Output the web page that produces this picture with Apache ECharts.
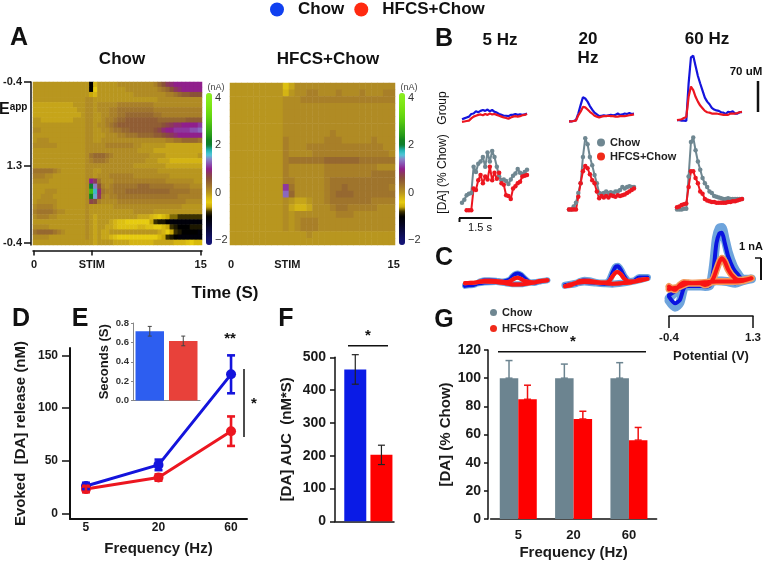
<!DOCTYPE html>
<html>
<head>
<meta charset="utf-8">
<title>Evoked dopamine, Chow vs HFCS+Chow</title>
<script src="https://cdn.jsdelivr.net/npm/echarts@6/dist/echarts.min.js"></script>
<style>
  html, body { margin: 0; background: #fff; }
  #chart { width: 764px; height: 561px; }
</style>
</head>
<body>
<div id="chart"></div>
<script>
// A: colour plots, tenths of nA, one row per step of the voltage sweep
var chowPlot = [
  [0,0,0,0,0,0,0, 0,0,0,0,0,0,0, -10,-2,0,0,0,0,0, 1,1,1,1,1,1,1, 1,1,2,4,6,8,9, 10,10,10,10,10,10,10],
  [0,0,0,0,0,0,0, 0,0,0,0,0,0,0, -10,-4,0,0,0,0,0, 0,0,1,1,1,1,1, 1,1,1,2,3,4,6, 8,9,10,10,10,10,10],
  [0,0,0,0,0,0,0, 0,0,0,0,0,0,0, -6,-2,0,0,0,0,0, 0,0,0,0,1,1,1, 1,1,1,1,1,2,2, 3,4,5,5,6,6,6],
  [0,0,0,0,0,0,0, 0,0,0,0,0,0,1, 1,0,0,0,0,0,0, 0,0,0,0,0,0,0, 0,0,0,1,1,1,1, 1,1,1,1,1,1,1],
  [-1,-1,-1,-1,-1,-1,-1, -1,-1,-1,0,0,0,1, 1,0,1,1,1,1,1, 2,2,2,2,2,2,2, 2,2,1,1,1,1,1, 1,1,1,1,1,1,1],
  [-1,-1,-1,-1,-1,-1,-1, -1,-1,-1,-1,0,0,1, 1,0,1,1,1,2,2, 3,3,3,3,3,3,3, 3,3,2,2,2,2,2, 2,2,2,2,2,2,2],
  [-1,-1,-1,-1,-1,-1,-1, -1,-1,-1,-1,-1,0,1, 1,0,0,1,1,2,2, 3,3,4,4,4,4,4, 4,4,3,3,2,2,2, 2,2,2,2,2,2,2],
  [0,0,-1,-1,-1,-1,-1, -1,-1,-1,0,0,0,1, 1,0,0,1,2,2,3, 4,4,5,5,5,5,5, 5,5,5,4,4,4,4, 4,4,4,5,5,5,5],
  [0,0,0,0,0,0,0, 0,0,0,0,0,0,1, 1,0,1,1,2,3,4, 5,5,5,5,5,5,5, 5,5,5,5,6,7,8, 9,9,10,10,10,10,11],
  [1,1,0,0,0,0,0, 0,0,0,0,0,0,1, 1,0,0,1,1,2,3, 3,4,4,5,5,5,5, 5,5,6,7,9,10,10, 11,11,11,11,12,12,13],
  [0,0,0,0,0,0,0, 0,0,0,0,0,0,1, 1,0,0,0,1,1,1, 2,2,3,3,3,4,4, 4,4,5,5,6,7,8, 9,10,10,10,10,10,10],
  [0,1,1,1,0,0,0, 0,0,0,0,0,0,1, 1,0,0,1,1,1,1, 1,1,1,1,1,1,1, 1,1,1,1,1,2,2, 3,3,4,4,4,4,3],
  [1,1,1,1,1,1,0, 0,0,0,0,0,0,1, 1,1,1,1,2,2,2, 2,2,2,2,1,1,0, 0,0,0,0,0,-1,-1, -1,-1,-1,-1,-1,-1,-1],
  [0,0,0,0,0,0,0, 0,0,0,0,0,0,1, 1,1,1,1,1,1,1, 1,1,1,1,1,0,0, 0,0,-1,-1,-1,-1,-1, -1,-1,-1,-1,-1,-1,-1],
  [0,0,0,0,0,0,0, 0,0,0,0,0,0,1, 3,4,4,4,3,2,1, 1,1,1,1,1,1,1, 1,0,0,0,0,-1,-1, -1,-1,-1,-1,-1,-1,0],
  [0,0,0,0,0,0,0, 0,0,0,0,0,0,1, 2,3,3,3,2,1,1, 1,1,1,1,1,1,1, 0,0,0,-1,-1,-1,-2, -2,-2,-2,-2,-2,-2,-2],
  [0,0,0,0,0,0,0, 0,0,0,0,0,0,1, 1,1,1,1,1,1,1, 1,1,1,1,0,0,0, 0,0,0,0,0,-1,-1, -1,-1,-1,-1,-1,-1,-1],
  [3,3,3,3,3,2,1, 0,0,0,0,0,0,1, 1,0,0,1,1,1,1, 1,1,1,1,1,1,1, 1,1,1,0,0,0,0, 0,0,0,0,0,0,0],
  [2,2,2,1,1,0,0, 0,0,0,0,0,0,1, 1,0,1,1,1,2,2, 2,2,2,2,1,1,1, 1,1,1,1,1,1,0, 0,0,0,0,0,0,0],
  [1,1,1,1,0,0,0, 0,0,0,0,0,0,1, 10,8,3,1,1,1,2, 2,2,2,2,2,2,2, 2,2,2,2,2,1,1, 1,1,1,1,1,0,0],
  [0,0,0,0,0,0,0, 0,0,0,0,0,0,1, 20,14,6,2,1,2,3, 3,3,3,3,3,4,4, 4,3,3,3,3,3,3, 2,2,2,2,1,1,1],
  [0,0,0,1,1,1,0, 0,0,0,0,0,0,1, 28,17,9,3,2,2,3, 3,3,4,4,4,4,4, 4,4,4,4,4,4,3, 3,3,3,3,2,2,2],
  [0,0,1,1,1,0,0, 0,0,0,0,0,0,1, 22,15,8,2,1,2,2, 3,3,3,3,3,3,3, 3,3,3,3,3,3,3, 3,2,2,2,2,2,2],
  [0,1,1,1,1,1,0, 0,0,0,0,0,0,1, 7,6,2,1,1,1,1, 2,2,2,2,2,2,2, 2,2,2,2,2,2,2, 2,2,2,1,1,1,1],
  [1,2,2,2,2,1,0, 0,0,0,0,0,0,1, 0,0,0,0,0,0,1, 1,1,1,1,1,1,1, 1,1,1,1,1,1,1, 1,1,0,0,0,0,0],
  [2,3,3,3,3,2,1, 1,0,0,0,0,0,1, 0,0,0,0,0,0,0, 0,0,0,0,1,1,1, 1,1,0,0,0,0,0, 0,0,0,0,0,0,0],
  [1,2,2,2,1,1,0, 0,0,0,0,0,0,1, 0,-1,0,0,0,0,0, 0,0,0,0,0,-1,-1, -1,-2,-3,-4,-5,-6,-7, -7,-8,-8,-8,-8,-8,-8],
  [0,0,0,0,0,0,0, 0,0,0,0,0,0,1, 0,-1,0,0,0,-1,-2, -3,-3,-4,-4,-4,-4,-4, -4,-6,-8,-9,-9,-10,-11, -11,-11,-11,-11,-11,-11,-11],
  [1,1,1,1,0,0,0, 0,0,0,0,0,0,1, 0,-1,0,0,-1,-1,-2, -3,-3,-3,-3,-3,-2,-2, -3,-3,-4,-4,-5,-6,-8, -9,-10,-10,-10,-9,-9,-9],
  [3,4,4,4,4,3,2, 1,0,0,0,0,0,1, 0,-1,0,-1,-1,0,0, 0,0,0,0,0,0,0, 0,0,0,-1,-2,-4,-6, -8,-9,-10,-10,-10,-10,-11],
  [1,1,1,1,0,0,0, 0,0,0,0,0,0,1, 0,-1,0,-1,-1,-2,-3, -4,-4,-4,-4,-4,-4,-4, -4,-4,-4,-5,-6,-8,-9, -10,-11,-11,-11,-11,-11,-11],
  [0,0,0,0,0,0,0, 0,0,0,0,0,0,0, 0,-1,0,0,0,0,-1, -1,-1,-1,-2,-2,-2,-2, -2,-2,-1,-1,-1,-1,-1, -2,-2,-2,-3,-4,-5,-5]
];
var hfcsPlot = [
  [0,0,0,0,0,0,0,0,0,-3,-1,1,1,1,1,1,1,1,1,1,1,1,1,1,1,1,1,1],
  [0,0,0,0,0,0,0,0,0,-2,0,1,1,2,2,1,1,1,2,1,1,1,2,1,1,1,2,2],
  [0,0,0,0,0,0,0,0,0,1,1,1,2,2,2,2,2,2,2,2,2,2,2,2,2,2,2,2],
  [0,0,0,0,0,0,0,0,0,1,1,1,1,1,1,1,1,1,1,1,1,1,1,1,1,1,1,1],
  [0,0,0,0,0,0,0,0,0,1,1,1,1,1,1,1,1,1,1,1,1,1,1,1,1,1,1,1],
  [0,0,0,0,0,0,0,0,0,1,1,1,1,1,1,1,1,1,1,1,1,1,1,1,1,1,1,1],
  [0,0,0,0,0,0,0,0,0,1,1,1,1,1,1,1,1,1,1,1,1,1,1,1,1,1,1,1],
  [0,0,0,0,0,0,0,0,0,1,1,1,1,1,1,1,1,2,1,1,1,1,1,1,1,1,1,1],
  [0,0,0,0,0,0,0,0,0,2,1,1,1,1,1,1,2,2,2,1,1,1,1,1,2,1,1,1],
  [0,0,0,0,0,0,0,0,0,2,1,1,1,2,2,2,2,2,2,2,2,2,2,2,2,2,1,1],
  [0,0,0,0,0,0,0,0,0,2,1,1,1,1,2,2,2,2,2,2,2,2,2,2,2,2,2,1],
  [0,0,0,0,0,0,0,0,0,2,3,3,3,3,3,3,4,4,4,4,4,4,3,3,3,3,3,3],
  [0,0,0,0,0,0,0,0,0,2,1,1,1,1,1,1,2,2,2,2,2,2,2,2,2,1,1,1],
  [0,0,0,0,0,0,0,0,0,2,1,1,1,1,1,1,2,2,2,2,2,2,2,2,3,3,3,3],
  [0,0,0,0,0,0,0,0,0,2,2,1,1,1,1,1,2,3,3,3,3,3,3,3,3,3,3,3],
  [0,0,0,0,0,0,0,0,0,11,3,1,1,1,1,1,2,3,3,4,3,3,3,3,3,3,3,2],
  [0,0,0,0,0,0,0,0,0,13,4,1,1,1,1,1,2,3,4,4,4,3,3,3,3,3,3,3],
  [0,0,0,0,0,0,0,0,0,1,0,-1,-1,0,1,1,2,3,3,3,3,3,3,3,2,2,2,2],
  [0,0,0,0,0,0,0,0,0,1,-1,-2,-2,-1,1,1,1,2,3,3,2,2,2,2,2,1,1,1],
  [0,0,0,0,0,0,0,0,0,1,0,1,1,1,1,1,1,1,2,2,2,1,1,1,1,1,1,1],
  [0,0,0,0,0,0,0,0,0,1,0,1,2,2,2,1,1,1,1,1,1,1,1,1,1,1,1,1],
  [0,0,0,0,0,0,0,0,0,1,0,1,2,2,2,1,1,1,1,1,1,1,1,1,1,1,1,1],
  [0,0,0,0,0,0,0,0,0,0,0,0,0,1,0,0,0,0,0,0,0,0,0,0,0,0,0,0],
  [0,0,0,0,0,0,0,0,0,0,0,0,0,0,0,0,0,0,0,0,0,0,0,0,0,0,0,0]
];
var plotRange = [-2.2, 4.2];
var plotColors = ['#14147a','#12126e','#0e0e58','#0a0a40','#06062a','#020214','#000000','#3a3000','#c8a808','#e6cb10','#d4b414',
  '#b8961f','#a87f28','#966830','#8a5238','#8c3a5a','#901f8c','#8a4fb0','#8a80c8','#50c8d8','#20b0b0','#0f7f30',
  '#108020','#259818','#35a818','#45b814','#55c810','#62d510','#6edc10','#78e212','#80e818','#86ec1c','#8cf020'];
var barTicks = [-2, 0, 2, 4];
var timeTicks = [0, 5.2, 15];
var timeLabels = { 0: '0', 5.2: 'STIM', 15: '15' };
var sweepTicks = [0, 0.515, 0.988];
var sweepLabels = ['-0.4', '1.3', '-0.4'];

// B: concentration traces (uM) and normalised traces (% Chow)
var group5Chow = [3,5,7,9,15,16,21,19,22,24,22,25,21,24,20,18,15,13,11,11,10,13,13,15,13,14,13,14,16];
var group5Hfcs = [-3,-2,-1,0,5,9,11,13,14,12,15,13,16,14,15,13,11,9,7,6,4,7,9,10,9,10,12,13,15];
var group20Chow = [-2,-2,-1,1,16,35,53,50,43,33,25,18,14,10,11,12,11,12,13,12,13,16,13,14,16,15,17,15,16];
var group20Hfcs = [-2,-2,-1,0,12,20,31,30,25,20,16,11,9,7,9,10,10,11,10,10,9,9,10,10,10,11,12,13,14];
var group60Chow = [1,1,0,0,-1,84,143,147,124,101,84,68,52,43,37,29,25,23,22,19,18,15,20,19,21,16,16,19,19];
var group60Hfcs = [1,2,3,6,8,54,77,69,54,43,34,28,22,19,18,16,16,16,15,14,13,13,13,16,16,16,17,19,20];

var pct5Chow = [12,16,22,24,25,60,53,64,67,73,60,79,67,81,73,60,47,42,43,41,37,43,48,51,57,52,50,53,56];
var pct5Hfcs = [null,null,2,2,2,31,29,42,49,38,47,43,60,42,52,44,52,38,36,22,21,17,31,34,38,40,47,48,49];
var pct20Chow = [3,3,7,12,25,38,73,98,90,73,62,49,38,25,24,25,27,25,26,25,27,27,29,33,31,33,34,33,33];
var pct20Hfcs = [3,3,3,3,20,38,54,61,58,50,42,38,27,18,21,19,21,19,22,21,20,22,21,22,23,25,27,29,31];
var pct60Chow = [3,3,3,4,4,47,93,99,82,67,56,45,38,33,27,25,21,20,19,18,17,17,18,17,17,17,17,17,17];
var pct60Hfcs = [6,7,9,10,11,33,54,54,45,38,27,24,17,15,14,13,13,12,12,12,12,12,13,13,14,14,15,16,17];

// C: cyclic voltammograms, nA against the up and back sweep
var cvPotential = [-0.40,-0.28,-0.18,-0.10,-0.01,0.09,0.23,0.33,0.43,0.50,0.56,0.62,0.67,0.73,0.80,0.90,1.00,1.10,1.27,1.10,0.94,0.77,0.56,0.40,0.23,-0.01,-0.18,-0.40];
var cv5Chow = [-0.15,-0.15,-0.10,0.02,0.08,0.08,0.06,0.02,0.05,0.10,0.25,0.36,0.39,0.33,0.18,0.00,-0.05,0.02,0.08,0.02,-0.02,-0.10,-0.10,-0.05,0.00,-0.02,-0.08,-0.18];
var cv5Hfcs = [-0.05,-0.05,-0.02,0.02,0.05,0.05,0.04,0.02,0.00,0.02,0.10,0.17,0.19,0.14,0.05,0.00,-0.02,0.04,0.08,0.02,-0.05,-0.10,-0.12,-0.05,0.00,0.02,-0.02,-0.06];
var cv20Chow = [-0.15,-0.12,-0.08,0.02,0.08,0.06,-0.02,-0.05,-0.05,0.08,0.40,0.68,0.71,0.55,0.25,0.02,0.05,0.20,0.20,0.10,0.02,-0.05,-0.10,-0.08,-0.05,0.00,-0.06,-0.15];
var cv20Hfcs = [-0.20,-0.15,-0.05,0.05,0.06,0.05,0.00,-0.02,-0.02,0.05,0.25,0.42,0.45,0.35,0.15,0.02,0.02,0.10,0.14,0.05,-0.02,-0.05,-0.08,-0.05,-0.02,0.00,-0.05,-0.20];
var cv60Chow = [-0.67,-0.97,-0.82,-0.29,-0.14,-0.14,-0.18,-0.21,-0.14,0.55,1.76,2.21,2.24,1.76,1.15,0.62,0.32,0.12,0.14,0.06,-0.06,0.02,0.05,-0.06,-0.18,-0.18,-0.29,-0.60];
var cv60ChowBand = [-0.85,-1.15,-0.95,-0.29,-0.14,-0.14,-0.18,-0.21,-0.14,0.75,2.00,2.45,2.48,2.00,1.35,0.72,0.35,0.12,0.14,0.06,-0.06,0.02,0.05,-0.06,-0.18,-0.18,-0.29,-0.75];
var cv60Hfcs = [-0.21,-0.36,-0.14,-0.02,-0.04,-0.06,-0.06,-0.14,-0.05,0.17,0.55,0.92,1.08,0.92,0.55,0.24,0.09,0.09,0.17,0.05,0.02,0.02,0.02,0.00,-0.04,-0.06,-0.21,-0.33];
var cvTicks = [-0.4, 1.3];

// D: evoked release
var freqLabels = ['5', '20', '60'];
var releaseChow = [26, 46, 132];
var releaseChowLow = [23, 41, 114];
var releaseChowHigh = [29, 51, 150];
var releaseHfcs = [23, 34, 78];
var releaseHfcsLow = [20, 31, 64];
var releaseHfcsHigh = [26, 37, 92];
var releaseTicks = [0, 50, 100, 150];

// E: inset, seconds
var secondsValues = [0.715, 0.615];
var secondsLow = [0.665, 0.565];
var secondsHigh = [0.765, 0.665];

// F: area under the curve
var aucValues = [463, 203];
var aucLow = [418, 173];
var aucHigh = [508, 232];

// G: percent of Chow
var pctChow = [100, 100, 100];
var pctChowHigh = [112.5, 110, 111];
var pctHfcs = [85, 71, 56];
var pctHfcsHigh = [95, 76.5, 65];

var FONT = '"Liberation Sans", Arial, sans-serif';
var BLUE = '#1414dc', RED = '#ec1620', GREY = '#6f8791';

var grids = [], xAxes = [], yAxes = [], series = [], graphics = [];

function addGrid(left, top, width, height) {
  grids.push({ left: left, top: top, width: width, height: height });
  return grids.length - 1;
}
function addX(opt) {
  opt.axisLine = Object.assign({ onZero: false }, opt.axisLine);
  xAxes.push(Object.assign({ splitLine: { show: false } }, opt));
  return xAxes.length - 1;
}
function addY(opt) {
  opt.axisLine = Object.assign({ onZero: false }, opt.axisLine);
  yAxes.push(Object.assign({ splitLine: { show: false } }, opt));
  return yAxes.length - 1;
}
function nameStyle(size) {
  return { fontFamily: FONT, fontWeight: 'bold', fontSize: size, color: '#1a1a1a' };
}
function text(x, y, str, size, opt) {
  opt = opt || {};
  graphics.push({
    type: 'text', x: x, y: y, rotation: opt.rotation || 0, silent: true,
    style: {
      text: str, fontFamily: FONT, fontSize: size, fontWeight: opt.weight || 'bold', fill: opt.fill || '#111',
      align: opt.align || 'center', verticalAlign: 'middle', rich: opt.rich
    }
  });
}
function rule(x1, y1, x2, y2, width) {
  graphics.push({ type: 'line', silent: true, shape: { x1: x1, y1: y1, x2: x2, y2: y2 }, style: { stroke: '#111', lineWidth: width || 1.5 } });
}
function pairs(xs, ys) {
  return ys.map(function (v, i) { return [xs[i], v]; });
}

// whiskers drawn from the value arrays through the axes; dx shifts them onto a grouped bar
function whiskers(xi, yi, xs, lows, highs, color, width, cap, dx) {
  series.push({
    type: 'custom', xAxisIndex: xi, yAxisIndex: yi, silent: true, z: 5,
    encode: { x: 0, y: [1, 2] },
    data: lows.map(function (v, i) { return [xs[i], v, highs[i]]; }),
    renderItem: function (params, api) {
      var a = api.coord([api.value(0), api.value(1)]);
      var b = api.coord([api.value(0), api.value(2)]);
      var x = a[0] + (dx || 0);
      var st = { stroke: color, lineWidth: width };
      return { type: 'group', children: [
        { type: 'line', shape: { x1: x, y1: a[1], x2: x, y2: b[1] }, style: st },
        { type: 'line', shape: { x1: x - cap, y1: b[1], x2: x + cap, y2: b[1] }, style: st },
        { type: 'line', shape: { x1: x - cap, y1: a[1], x2: x + cap, y2: a[1] }, style: st }
      ] };
    }
  });
}

// ---- A
function colourPlot(matrix, left, top, width, height, barLeft, withSweep) {
  var g = addGrid(left, top, width, height);
  var xi = addX({ type: 'category', gridIndex: g, show: false, data: matrix[0].map(function (v, i) { return i; }) });
  addX({
    type: 'value', gridIndex: g, min: -0.09, max: 15.12, position: 'bottom', offset: 5.5,
    axisLine: { lineStyle: { color: '#111', width: 1.5 } },
    axisTick: { customValues: timeTicks, length: 5, lineStyle: { color: '#111', width: 1.5 } },
    axisLabel: { customValues: timeTicks, margin: 9, formatter: function (v) { return timeLabels[v]; }, fontFamily: FONT, fontWeight: 'bold', fontSize: 11, color: '#1a1a1a' }
  });
  var yi = addY({ type: 'category', gridIndex: g, show: false, inverse: true, data: matrix.map(function (r, i) { return i; }) });
  if (withSweep) {
    addY({
      type: 'value', gridIndex: g, min: 0, max: 1, inverse: true, position: 'left', offset: 2,
      axisLine: { lineStyle: { color: '#111', width: 1.5 } },
      axisTick: { customValues: sweepTicks, length: 7, lineStyle: { color: '#111', width: 1.5 } },
      axisLabel: { customValues: sweepTicks, margin: 9, formatter: function (v) { return sweepLabels[sweepTicks.indexOf(v)]; }, fontFamily: FONT, fontWeight: 'bold', fontSize: 11, color: '#1a1a1a' }
    });
  }
  var data = [];
  matrix.forEach(function (row, r) {
    row.forEach(function (v, c) { data.push([c, r, v / 10]); });
  });
  series.push({ type: 'heatmap', xAxisIndex: xi, yAxisIndex: yi, data: data, progressive: 0, silent: true });
  var heatIndex = series.length - 1;

  // colour bar tick labels
  var gb = addGrid(barLeft, 93, 6, 152);
  addX({ type: 'value', gridIndex: gb, show: false, min: 0, max: 1 });
  addY({
    type: 'value', gridIndex: gb, position: 'right', min: plotRange[0], max: plotRange[1],
    axisLine: { show: false }, axisTick: { show: false },
    axisLabel: { customValues: barTicks, margin: 3, formatter: function (v) { return v < 0 ? '\u2212' + (-v) : String(v); }, fontFamily: FONT, fontSize: 11, color: '#333' }
  });
  return heatIndex;
}
var heatChow = colourPlot(chowPlot, 33, 82, 169, 163, 206, true);
var heatHfcs = colourPlot(hfcsPlot, 230, 83, 165, 162, 399, false);

function barMap(seriesIndex, left) {
  return {
    type: 'continuous', seriesIndex: seriesIndex, min: plotRange[0], max: plotRange[1], dimension: 2,
    left: left, top: 93, itemWidth: 6, itemHeight: 152, padding: 0, calculable: false, hoverLink: false,
    text: null, inRange: { color: plotColors }
  };
}

// ---- B
function traceGrid(left, top, height, min, max, chow, hfcs, chowColor, withDots) {
  var g = addGrid(left, top, 65, height);
  var xi = addX({ type: 'value', gridIndex: g, show: false, min: 0, max: 28 });
  var yi = addY({ type: 'value', gridIndex: g, show: false, min: min, max: max });
  [[chow, chowColor], [hfcs, RED]].forEach(function (s, n) {
    series.push({
      type: 'line', xAxisIndex: xi, yAxisIndex: yi, name: n ? 'HFCS+Chow' : 'Chow', clip: false, silent: true,
      data: s[0].map(function (v, i) { return [i, v]; }),
      showSymbol: withDots, symbol: 'circle', symbolSize: 4.5, connectNulls: false,
      itemStyle: { color: s[1] }, lineStyle: { color: s[1], width: withDots ? 2 : 2.2 }
    });
  });
}
traceGrid(462, 50, 75, -10, 160, group5Chow, group5Hfcs, BLUE, false);
traceGrid(569, 50, 75, -10, 160, group20Chow, group20Hfcs, BLUE, false);
traceGrid(677, 50, 75, -10, 160, group60Chow, group60Hfcs, BLUE, false);
traceGrid(462, 130, 86, -5.7, 109, pct5Chow, pct5Hfcs, GREY, true);
traceGrid(569, 130, 86, -5.7, 109, pct20Chow, pct20Hfcs, GREY, true);
traceGrid(677, 130, 86, -5.7, 109, pct60Chow, pct60Hfcs, GREY, true);

// ---- C
function cvGrid(left, chow, chowBand, hfcs, blueBand, redBand, withAxis) {
  var g = addGrid(left, 222, 84, 94);
  var xi = addX(withAxis ? {
    type: 'value', gridIndex: g, min: -0.4, max: 1.3, position: 'bottom',
    name: 'Potential (V)', nameLocation: 'center', nameGap: 34, nameTextStyle: nameStyle(13),
    axisLine: { lineStyle: { color: '#111', width: 1.5 } },
    axisTick: { customValues: cvTicks, length: 12, lineStyle: { color: '#111', width: 1.5 } },
    axisLabel: { customValues: cvTicks, margin: 16, fontFamily: FONT, fontWeight: 'bold', fontSize: 11.5, color: '#1a1a1a', formatter: function (v) { return v.toFixed(1); } }
  } : { type: 'value', gridIndex: g, show: false, min: -0.4, max: 1.3 });
  var yi = addY({ type: 'value', gridIndex: g, show: false, min: -1.55, max: 2.73 });
  [[chowBand, '#6ea4dc', blueBand], [chow, '#0a14e0', 4], [hfcs, '#f29a5c', redBand], [hfcs, '#fa1414', 4]].forEach(function (s) {
    series.push({
      type: 'line', xAxisIndex: xi, yAxisIndex: yi, clip: false, silent: true, showSymbol: false, smooth: 0.25,
      data: pairs(cvPotential, s[0]), lineStyle: { color: s[1], width: s[2], cap: 'round', join: 'round' }
    });
  });
}
cvGrid(465, cv5Chow, cv5Chow, cv5Hfcs, 6, 4, false);
cvGrid(565, cv20Chow, cv20Chow, cv20Hfcs, 7, 4, false);
cvGrid(669, cv60Chow, cv60ChowBand, cv60Hfcs, 9, 7, true);

// ---- D
var gD = addGrid(70, 348, 177, 171);
var xD = addX({
  type: 'value', gridIndex: gD, min: -0.22, max: 2.22,
  name: 'Frequency (Hz)', nameLocation: 'center', nameGap: 22, nameTextStyle: nameStyle(15),
  axisLine: { lineStyle: { color: '#111', width: 2 } },
  axisTick: { show: false },
  axisLabel: { customValues: [0, 1, 2], margin: 3, formatter: function (v) { return freqLabels[v]; }, fontFamily: FONT, fontWeight: 'bold', fontSize: 12, color: '#1a1a1a' }
});
var yD = addY({
  type: 'value', gridIndex: gD, min: -5.4, max: 157,
  name: 'Evoked  [DA] release (nM)', nameLocation: 'center', nameGap: 42, nameTextStyle: nameStyle(15),
  axisLine: { lineStyle: { color: '#111', width: 2 } },
  axisTick: { customValues: releaseTicks, length: 8, lineStyle: { color: '#111', width: 1.5 } },
  axisLabel: { customValues: releaseTicks, margin: 12, fontFamily: FONT, fontWeight: 'bold', fontSize: 12, color: '#1a1a1a' }
});
var idx = [0, 1, 2];
series.push({ type: 'line', name: 'Chow', xAxisIndex: xD, yAxisIndex: yD, data: pairs(idx, releaseChow), symbol: 'circle', symbolSize: 10, silent: true, itemStyle: { color: BLUE }, lineStyle: { color: BLUE, width: 3 }, z: 3 });
series.push({ type: 'line', name: 'HFCS+Chow', xAxisIndex: xD, yAxisIndex: yD, data: pairs(idx, releaseHfcs), symbol: 'circle', symbolSize: 10, silent: true, itemStyle: { color: RED }, lineStyle: { color: RED, width: 3 }, z: 4 });
whiskers(xD, yD, idx, releaseChowLow, releaseChowHigh, BLUE, 2.6, 4);
whiskers(xD, yD, idx, releaseHfcsLow, releaseHfcsHigh, RED, 2.6, 4);

// ---- E
var gE = addGrid(133, 323, 67, 77.5);
var xE = addX({
  type: 'category', gridIndex: gE, data: ['Chow', 'HFCS+Chow'],
  axisLine: { lineStyle: { color: '#888', width: 1 } }, axisTick: { show: false }, axisLabel: { show: false }
});
var yE = addY({
  type: 'value', gridIndex: gE, min: 0, max: 0.8, interval: 0.2,
  name: 'Seconds (S)', nameLocation: 'center', nameGap: 22, nameTextStyle: nameStyle(13),
  axisLine: { show: true, lineStyle: { color: '#888', width: 1 } },
  axisTick: { show: true, length: 2, lineStyle: { color: '#888' } },
  axisLabel: { margin: 4, fontFamily: FONT, fontWeight: 'bold', fontSize: 9.5, color: '#333', formatter: function (v) { return v.toFixed(1); } }
});
var secondColors = ['#2d5ef0', '#e8413a'];
series.push({
  type: 'bar', xAxisIndex: xE, yAxisIndex: yE, barWidth: 28.5, silent: true,
  data: secondsValues.map(function (v, i) { return { value: v, itemStyle: { color: secondColors[i] } }; })
});
whiskers(xE, yE, [0, 1], secondsLow, secondsHigh, '#444', 1, 2);

// ---- F
var gF = addGrid(335, 357.3, 59, 164);
var xF = addX({
  type: 'value', gridIndex: gF, min: -0.775, max: 1.48,
  axisLine: { lineStyle: { color: '#111', width: 1.5 } }, axisTick: { show: false }, axisLabel: { show: false }
});
var yF = addY({
  type: 'value', gridIndex: gF, min: 0, max: 500, interval: 100,
  name: '[DA] AUC  (nM*S)', nameLocation: 'center', nameGap: 41, nameTextStyle: nameStyle(15),
  axisLine: { show: true, lineStyle: { color: '#111', width: 1.5 } },
  axisTick: { show: true, length: 5, lineStyle: { color: '#111', width: 1.5 } },
  axisLabel: { margin: 9, fontFamily: FONT, fontWeight: 'bold', fontSize: 14, color: '#1a1a1a' }
});
var aucColors = ['#0a1be6', '#fe0000'];
series.push({
  type: 'bar', xAxisIndex: xF, yAxisIndex: yF, barWidth: 22, silent: true,
  data: aucValues.map(function (v, i) { return { value: [i, v], itemStyle: { color: aucColors[i] } }; })
});
whiskers(xF, yF, [0, 1], aucLow, aucHigh, '#222', 1.2, 3.5);

// ---- G
var gG = addGrid(490.6, 350, 166, 169);
var xG = addX({
  type: 'category', gridIndex: gG, data: freqLabels,
  name: 'Frequency (Hz)', nameLocation: 'center', nameGap: 26, nameTextStyle: nameStyle(15),
  axisLine: { lineStyle: { color: '#111', width: 1.5 } }, axisTick: { show: false },
  axisLabel: { margin: 10, fontFamily: FONT, fontWeight: 'bold', fontSize: 13, color: '#1a1a1a' }
});
var yG = addY({
  type: 'value', gridIndex: gG, min: 0, max: 120, interval: 20, offset: 2.6,
  name: '[DA] (% Chow)', nameLocation: 'center', nameGap: 33, nameTextStyle: nameStyle(15),
  axisLine: { show: true, lineStyle: { color: '#111', width: 1.5 } },
  axisTick: { show: true, length: 4, lineStyle: { color: '#111', width: 1.5 } },
  axisLabel: { margin: 7, fontFamily: FONT, fontWeight: 'bold', fontSize: 14, color: '#1a1a1a' }
});
series.push({ type: 'bar', name: 'Chow', xAxisIndex: xG, yAxisIndex: yG, barWidth: 18.5, barGap: 0, data: pctChow, silent: true, itemStyle: { color: '#6c8490' } });
series.push({ type: 'bar', name: 'HFCS+Chow', xAxisIndex: xG, yAxisIndex: yG, barWidth: 18.5, barGap: 0, data: pctHfcs, silent: true, itemStyle: { color: '#fe0000' } });
whiskers(xG, yG, idx, pctChow, pctChowHigh, '#6c8490', 1.5, 3.5, -9.25);
whiskers(xG, yG, idx, pctHfcs, pctHfcsHigh, '#f01010', 1.5, 3.5, 9.25);

// ---- annotation text and rules
text(19, 38, 'A', 25); text(444, 39, 'B', 25); text(444, 258, 'C', 25);
text(21, 319, 'D', 25); text(80, 319, 'E', 25); text(286, 319, 'F', 25); text(444, 320, 'G', 25);
text(122, 59, 'Chow', 17); text(328, 59, 'HFCS+Chow', 17);
text(225, 293, 'Time (S)', 17);
text(-1, 110, '{e|E}{a|app}', 16, { align: 'left', rich: {
  e: { fontFamily: FONT, fontWeight: 'bold', fontSize: 16, fill: '#111' },
  a: { fontFamily: FONT, fontWeight: 'bold', fontSize: 10, fill: '#111', verticalAlign: 'top', padding: [0, 0, 5, 0] }
} });
text(216, 88, '(nA)', 9, { weight: 'normal', fill: '#444' });
text(409, 88, '(nA)', 9, { weight: 'normal', fill: '#444' });

text(500, 40, '5 Hz', 17); text(588, 39, '20', 17); text(588, 58, 'Hz', 17); text(707, 39, '60 Hz', 17);
text(746, 72, '70 uM', 11.5); rule(758, 81, 758, 112, 2.5);
text(443, 108, 'Group', 12, { rotation: Math.PI / 2, weight: 'normal' });
text(443, 174, '[DA] (% Chow)', 12, { rotation: Math.PI / 2, weight: 'normal' });
rule(459.5, 222, 459.5, 218, 2); rule(459, 218, 492, 218, 2);
text(480, 228, '1.5 s', 11, { weight: 'normal' });

text(751, 247, '1 nA', 11); rule(761, 258, 761, 280, 2); rule(755, 258, 761, 258, 1.5);

text(230, 339, '**', 15); rule(244, 369, 244, 437, 1.5); text(254, 404, '*', 15);
rule(348, 345.7, 388, 345.7, 1.5); text(368, 336, '*', 15);
rule(498, 351.7, 646, 351.7, 1.5); text(573, 342, '*', 15);

var chart = echarts.init(document.getElementById('chart'));
chart.setOption({
  animation: false,
  backgroundColor: '#fff',
  textStyle: { fontFamily: FONT },
  grid: grids,
  xAxis: xAxes,
  yAxis: yAxes,
  visualMap: [barMap(heatChow, 206), barMap(heatHfcs, 399)],
  legend: [
    {
      left: 270, top: 1, itemWidth: 14, itemHeight: 14, itemGap: 10, padding: 0, selectedMode: false, icon: 'circle',
      textStyle: { fontFamily: FONT, fontWeight: 'bold', fontSize: 17, color: '#111', padding: [0, 0, 0, 9] },
      data: [{ name: 'Chow', itemStyle: { color: '#1040f0' } }, { name: 'HFCS+Chow', itemStyle: { color: '#ff2a10' } }]
    },
    {
      left: 597, top: 137, orient: 'vertical', itemWidth: 8, itemHeight: 8, itemGap: 3, padding: 0, selectedMode: false, icon: 'circle',
      textStyle: { fontFamily: FONT, fontWeight: 'bold', fontSize: 11, color: '#222' },
      data: [{ name: 'Chow', itemStyle: { color: GREY } }, { name: 'HFCS+Chow', itemStyle: { color: '#f02a1a' } }]
    },
    {
      left: 490, top: 307, orient: 'vertical', itemWidth: 7, itemHeight: 7, itemGap: 5, padding: 0, selectedMode: false, icon: 'circle',
      textStyle: { fontFamily: FONT, fontWeight: 'bold', fontSize: 11, color: '#222' },
      data: [{ name: 'Chow', itemStyle: { color: GREY } }, { name: 'HFCS+Chow', itemStyle: { color: '#f02a1a' } }]
    }
  ],
  series: series,
  graphic: { elements: graphics }
});
</script>
</body>
</html>
